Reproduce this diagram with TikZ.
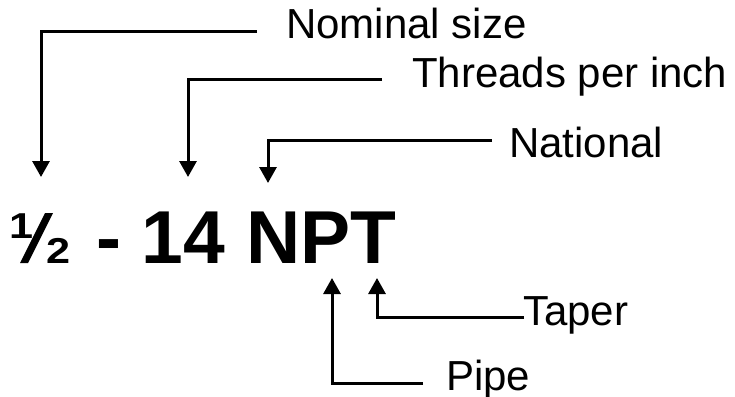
\documentclass[tikz,border=0pt]{standalone}
\usepackage{fontspec}
\setmainfont{Liberation Sans}
\usetikzlibrary{arrows.meta}
\tikzset{
  lbl/.style={anchor=base west, inner sep=0pt, font=\fontsize{42}{50}\selectfont},
  big/.style={anchor=base west, inner sep=0pt, font=\fontsize{75}{80}\selectfont\bfseries},
  fracdigit/.style={anchor=base west, inner sep=0pt, xscale=1.2, font=\fontsize{36}{40}\selectfont\bfseries},
  arr/.style={line width=3pt, -{Triangle[width=17pt,length=16pt]}}
}
\begin{document}
\begin{tikzpicture}[x=1pt,y=-1pt]
\useasboundingbox (0,0) rectangle (735,396);
% fraction one half
\node[fracdigit] (fnum) at (9,238) {1};
\node[fracdigit] (fden) at (46,263) {2};
\fill (20,263) -- (28,263) -- (53,213) -- (45,213) -- cycle;
% main text
\node[big] (code) at (96,263) {- 14 NPT};
% labels
\node[lbl] (nom) at (286,38) {Nominal size};
\node[lbl] (tpi) at (412,87) {Threads per inch};
\node[lbl] (nat) at (509,157) {National};
\node[lbl] (tap) at (523,325) {Taper};
\node[lbl] (pip) at (446,390) {Pipe};
% connector ends
\coordinate (nomS) at (257,32);
\coordinate (nomT) at (41,177);
\coordinate (tpiS) at (382,79);
\coordinate (tpiT) at (188,177);
\coordinate (natS) at (492,140);
\coordinate (natT) at (268,183);
\coordinate (tapS) at (524,317);
\coordinate (tapT) at (377,278);
\coordinate (pipS) at (423,383);
\coordinate (pipT) at (332,278);
% connectors
\draw[arr] (nomS) -| (nomT);
\draw[arr] (tpiS) -| (tpiT);
\draw[arr] (natS) -| (natT);
\draw[arr] (tapS) -| (tapT);
\draw[arr] (pipS) -| (pipT);
\end{tikzpicture}
\end{document}
